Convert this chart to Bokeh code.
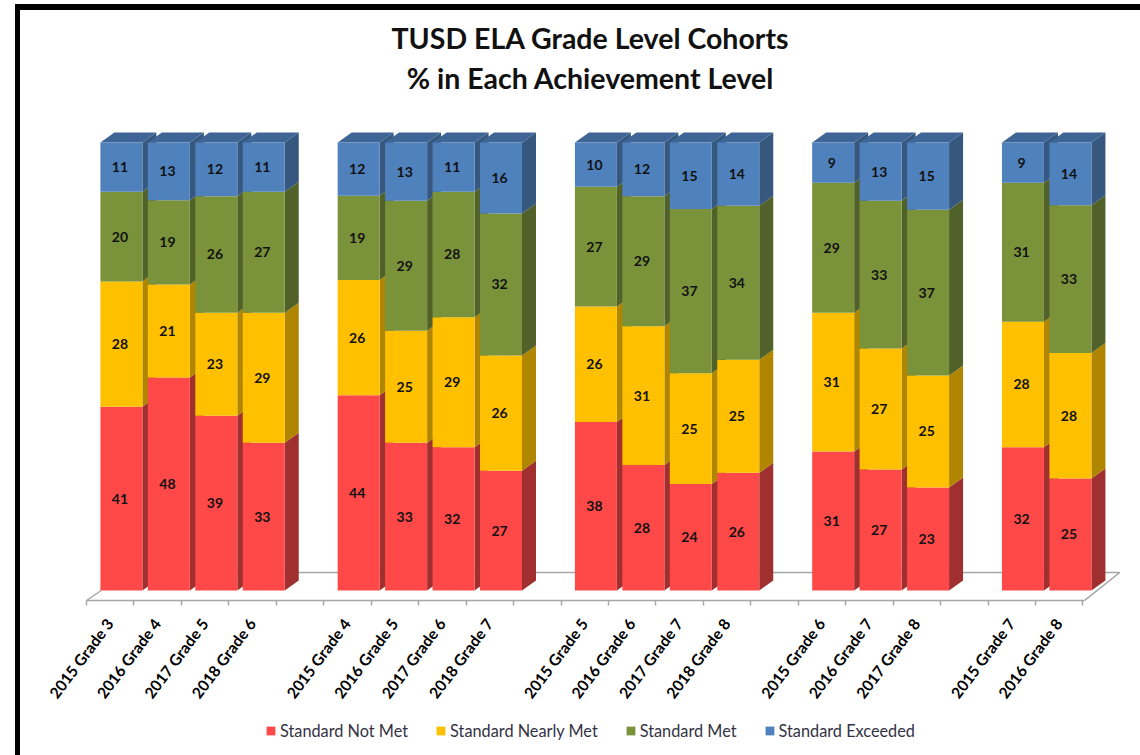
import math
from bokeh.core.properties import value
from bokeh.embed import file_html
from bokeh.models import ColumnDataSource, FixedTicker, Legend, LegendItem, Range1d, Title
from bokeh.plotting import figure
from bokeh.resources import INLINE

categories = ["2015 Grade 3", "2016 Grade 4", "2017 Grade 5", "2018 Grade 6", "",
              "2015 Grade 4", "2016 Grade 5", "2017 Grade 6", "2018 Grade 7", "",
              "2015 Grade 5", "2016 Grade 6", "2017 Grade 7", "2018 Grade 8", "",
              "2015 Grade 6", "2016 Grade 7", "2017 Grade 8", "",
              "2015 Grade 7", "2016 Grade 8"]
not_met = [41, 48, 39, 33, None, 44, 33, 32, 27, None, 38, 28, 24, 26, None, 31, 27, 23, None, 32, 25]
nearly_met = [28, 21, 23, 29, None, 26, 25, 29, 26, None, 26, 31, 25, 25, None, 31, 27, 25, None, 28, 28]
met = [20, 19, 26, 27, None, 19, 29, 28, 32, None, 27, 29, 37, 34, None, 29, 33, 37, None, 31, 33]
exceeded = [11, 13, 12, 11, None, 12, 13, 11, 16, None, 10, 12, 15, 14, None, 9, 13, 15, None, 9, 14]

series_names = ["Standard Not Met", "Standard Nearly Met", "Standard Met", "Standard Exceeded"]
series_values = [not_met, nearly_met, met, exceeded]
front_colors = ["#FF4949", "#FFC000", "#7A933B", "#4F81BD"]
side_colors = ["#A02F2F", "#B08600", "#50612A", "#36587F"]
top_color = "#3E6595"

TEXT = "#111111"
FONT = "Lato"
BAR_W = 0.885
DEPTH_X = 0.295
DEPTH_Y = 2.232
FLOOR_L, FLOOR_R = -0.7355, 20.3
FLOOR_BACK_Y = 4.02

# the figure sits inside the heavy top/left picture frame, drawn as the element's border
p = figure(width=1120, height=745, frame_width=1100, frame_height=657,
           x_range=Range1d(-1.705, 21.477), y_range=Range1d(-36.83, 109.82),
           output_backend="svg", toolbar_location=None,
           min_border_left=20, min_border_right=0, min_border_top=88, min_border_bottom=0,
           outline_line_color=None, background_fill_color="white", border_fill_color="white")
p.styles = {"position": "absolute", "left": "15px", "top": "4px", "box-sizing": "content-box",
            "border-left": "5px solid #000000", "border-top": "6px solid #000000"}
p.grid.visible = False
p.yaxis.visible = False

# floor of the 3-D box
p.line([FLOOR_L, FLOOR_L + 0.31], [-2.232, 0], line_color="#A6A6A6", line_width=1.5)
p.line([FLOOR_L + 0.74, FLOOR_R + 0.74, FLOOR_R], [FLOOR_BACK_Y, FLOOR_BACK_Y, -2.2],
       line_color="#A6A6A6", line_width=1.5)

# stack the shares (each column is drawn to 100 %)
slots = [k for k, c in enumerate(categories) if c]
labels_x, labels_y, labels_t = [], [], []
side_xs, side_ys, side_c = [], [], []
front = [dict(x=[], top=[], bottom=[]) for _ in series_values]
for k in slots:
    total = sum(s[k] for s in series_values)
    cum = 0.0
    l = k - BAR_W / 2
    r = k + BAR_W / 2
    for i, s in enumerate(series_values):
        b = cum
        cum += s[k] * 100.0 / total
        front[i]["x"].append(k)
        front[i]["bottom"].append(b)
        front[i]["top"].append(cum)
        labels_x.append(k - 0.03)
        labels_y.append((b + cum) / 2)
        labels_t.append(str(s[k]))
        side_xs.append([r, r + DEPTH_X, r + DEPTH_X, r])
        side_ys.append([b, b + DEPTH_Y, cum + DEPTH_Y, cum])
        side_c.append(side_colors[i])
    side_xs.append([l, l + DEPTH_X, r + DEPTH_X, r])
    side_ys.append([100, 100 + DEPTH_Y, 100 + DEPTH_Y, 100])
    side_c.append(top_color)

p.patches(xs=side_xs, ys=side_ys, fill_color=side_c, line_color=None)

renderers = []
for i, name in enumerate(series_names):
    src = ColumnDataSource(front[i])
    renderers.append(p.vbar(x="x", top="top", bottom="bottom", width=BAR_W, source=src,
                            fill_color=front_colors[i], line_color=None))

p.text(labels_x, labels_y, text=labels_t, text_align="center", text_baseline="middle",
       text_font=value(FONT), text_font_style="bold", text_font_size="14px", text_color=TEXT)

# axis: labels at the slot centres, short ticks on the slot edges
label_ticks = [k + FLOOR_L + 0.5 - 0.01 for k in slots]
ax = p.xaxis[0]
ax.fixed_location = -2.232
ax.ticker = FixedTicker(ticks=label_ticks, minor_ticks=[FLOOR_L + k * 1.0 for k in range(len(categories) + 1)])
ax.major_label_overrides = {t: categories[k] for t, k in zip(label_ticks, slots)}
ax.major_label_orientation = math.radians(53)
ax.major_label_text_font = FONT
ax.major_label_text_font_style = "bold"
ax.major_label_text_font_size = "15.6px"
ax.major_label_text_color = "#000000"
ax.major_label_standoff = 15
ax.major_tick_in = 0
ax.major_tick_out = 0
ax.minor_tick_in = 0
ax.minor_tick_out = 5
ax.minor_tick_line_color = "#A6A6A6"
ax.minor_tick_line_width = 1.5
ax.axis_line_color = "#A6A6A6"
ax.axis_line_width = 1.5
ax.bounds = (FLOOR_L, FLOOR_R)

legend = Legend(items=[LegendItem(label=n, renderers=[r]) for n, r in zip(series_names, renderers)],
                location=(225, 15),
                orientation="horizontal", border_line_color=None, background_fill_alpha=0,
                label_text_font=FONT, label_text_font_size="16.3px", label_text_color="#333344",
                glyph_width=11, glyph_height=11, spacing=27, label_standoff=4, margin=0, padding=6)
p.add_layout(legend, "center")

p.add_layout(Title(text="% in Each Achievement Level", align="center", text_font=FONT,
                   text_font_style="bold", text_font_size="28.5px", text_color="#111111", standoff=8), "above")
p.add_layout(Title(text="TUSD ELA Grade Level Cohorts", align="center", text_font=FONT,
                   text_font_style="bold", text_font_size="28.5px", text_color="#111111", standoff=0), "above")

open("out.html", "w").write(file_html(p, INLINE))
